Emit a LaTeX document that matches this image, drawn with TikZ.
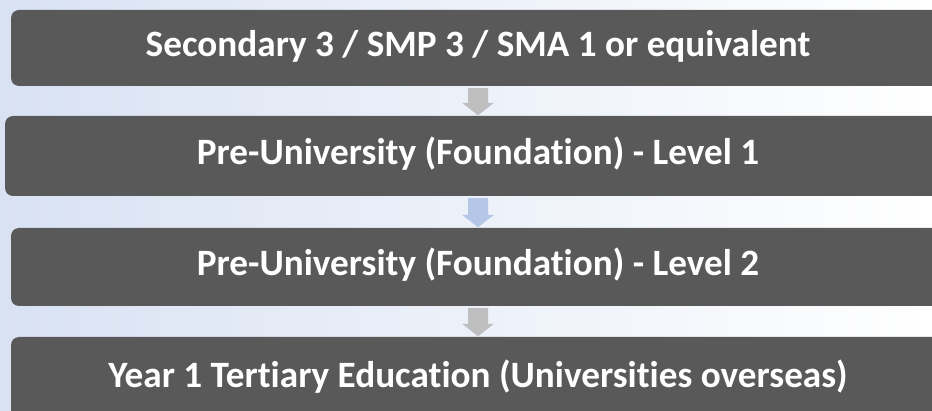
\documentclass[tikz,border=0pt]{standalone}
\usepackage{fontspec}
\setmainfont[Ligatures={NoCommon}]{Carlito}
\usetikzlibrary{calc}
\definecolor{boxgray}{HTML}{595959}
\definecolor{arrgray}{HTML}{BFBFBF}
\definecolor{arrblue}{HTML}{B4C7E7}
\definecolor{bgblue}{HTML}{D9E2F3}
\tikzset{
  stagebox/.style={fill=boxgray, rounded corners=8pt, text=white, inner sep=0pt,
    font=\fontsize{37.2}{42}\selectfont\bfseries, text height=25pt, text depth=7pt,
    minimum width=934pt},
}
\newcommand\blockdownarrow[3]{%
  \fill[#1] ($(#2.south)+(-10,-2)$) -- ($(#2.south)+(10,-2)$) -- ($(#3.north)+(10,13)$)
    -- ($(#3.north)+(16,13)$) -- ($(#3.north)+(0,0.5)$) -- ($(#3.north)+(-16,13)$)
    -- ($(#3.north)+(-10,13)$) -- cycle;}
\begin{document}
\begin{tikzpicture}[x=1pt,y=1pt]
\useasboundingbox (0,0) rectangle (932,-411);
\clip (0,0) rectangle (932,-411);
\shade[left color=bgblue, right color=white] (0,0) rectangle (932,-411);
\node[stagebox, minimum height=76pt] (b1) at (478,-48) {Secondary 3 / SMP 3 / SMA 1 or equivalent};
\node[stagebox, minimum height=80pt, minimum width=946pt] (b2) at (478,-156) {Pre-University (Foundation) - Level 1};
\node[stagebox, minimum height=78pt] (b3) at (478,-267) {Pre-University (Foundation) - Level 2};
\node[stagebox, minimum height=84pt] (b4) at (478,-379) {Year 1 Tertiary Education (Universities overseas)};
\blockdownarrow{arrgray}{b1}{b2}
\blockdownarrow{arrblue}{b2}{b3}
\blockdownarrow{arrgray}{b3}{b4}
\end{tikzpicture}
\end{document}
